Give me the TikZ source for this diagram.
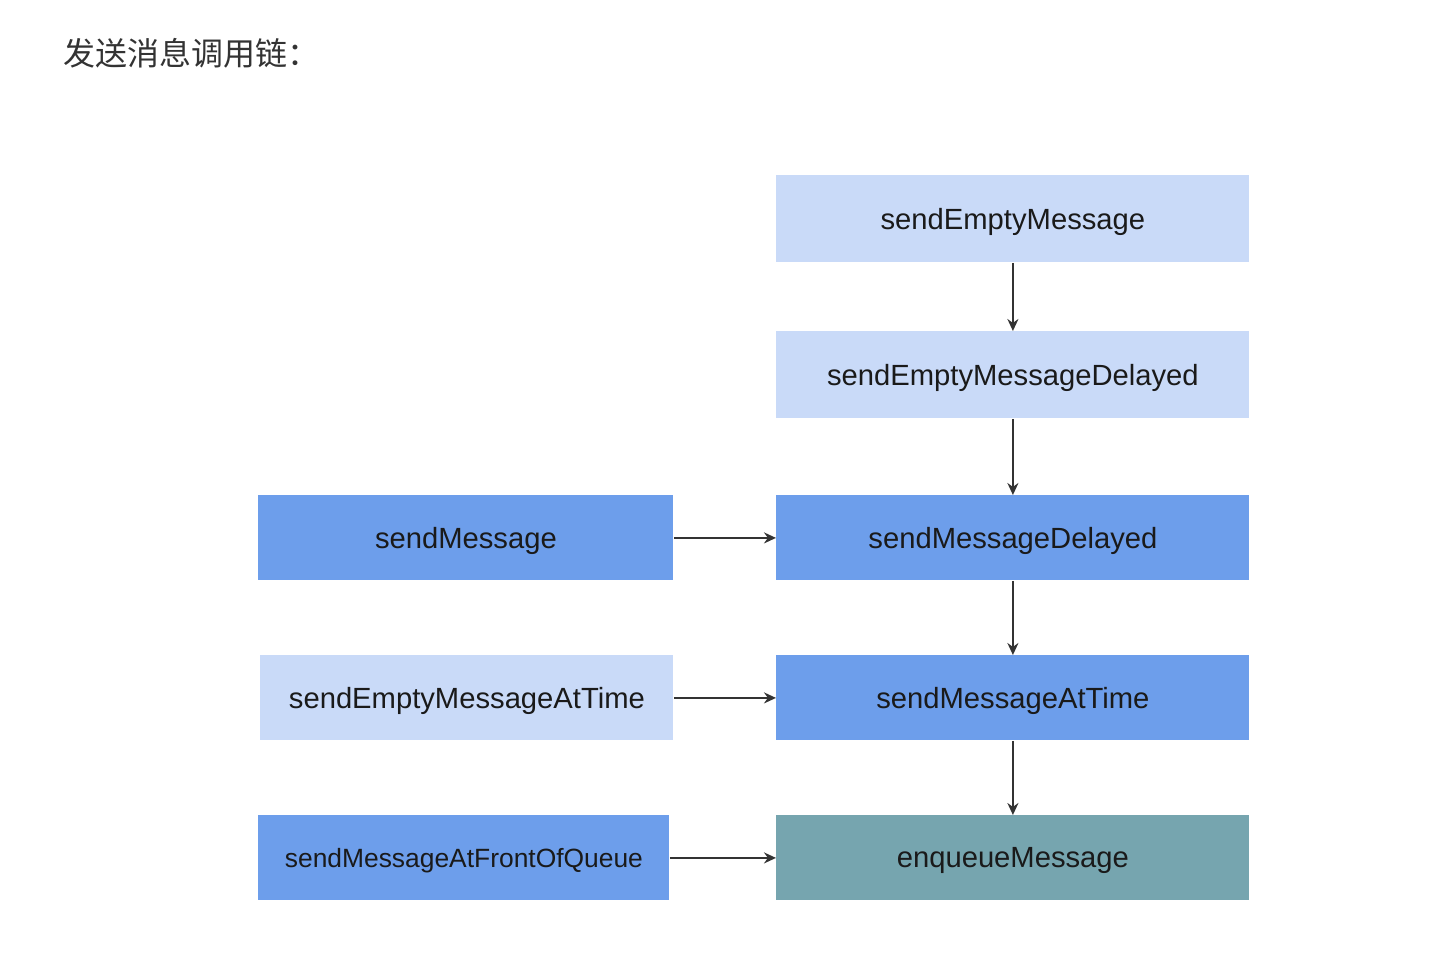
\documentclass[tikz,border=0pt]{standalone}
\usepackage{fontspec}
\setmainfont{Liberation Sans}
\newfontfamily\cjk{Noto Sans CJK SC}
\usetikzlibrary{arrows.meta}
\definecolor{lightblue}{HTML}{C9DAF8}
\definecolor{midblue}{HTML}{6D9EEB}
\definecolor{teal}{HTML}{76A5AF}
\definecolor{txt}{HTML}{1A1A1A}
\tikzset{
  box/.style={draw=none, anchor=north west, inner sep=0pt, text depth=0pt, text=txt, font=\fontsize{14.6}{16}\selectfont},
  arr/.style={draw=black!80, line width=1pt, -{Stealth[length=6pt,width=5.5pt]}}
}
\begin{document}
\begin{tikzpicture}[x=0.5pt,y=-0.5pt]
\useasboundingbox (0,0) rectangle (1444,966);
\node[anchor=west, inner sep=0pt, text=black!80, font=\cjk\fontsize{16}{18}\selectfont] (title) at (63,53) {发送消息调用链：};
\node[box, fill=lightblue, minimum width=236.5pt, minimum height=43.5pt] (a) at (776,175) {sendEmptyMessage};
\node[box, fill=lightblue, minimum width=236.5pt, minimum height=43.5pt] (b) at (776,331) {sendEmptyMessageDelayed};
\node[box, fill=midblue, minimum width=236.5pt, minimum height=42.5pt] (c) at (776,495) {sendMessageDelayed};
\node[box, fill=midblue, minimum width=236.5pt, minimum height=42.5pt] (d) at (776,655) {sendMessageAtTime};
\node[box, fill=teal, minimum width=236.5pt, minimum height=42.5pt] (e) at (776,815) {enqueueMessage};
\node[box, fill=midblue, minimum width=207.5pt, minimum height=42.5pt] (f) at (258,495) {sendMessage};
\node[box, fill=lightblue, minimum width=206.5pt, minimum height=42.5pt] (g) at (260,655) {sendEmptyMessageAtTime};
\node[box, fill=midblue, minimum width=205.5pt, minimum height=42.5pt, font=\fontsize{13.2}{15}\selectfont] (h) at (258,815) {sendMessageAtFrontOfQueue};
\draw[arr] (a.south) -- (b.north);
\draw[arr] (b.south) -- (c.north);
\draw[arr] (c.south) -- (d.north);
\draw[arr] (d.south) -- (e.north);
\draw[arr] (f.east) -- (c.west);
\draw[arr] (g.east) -- (d.west);
\draw[arr] (h.east) -- (e.west);
\end{tikzpicture}
\end{document}
